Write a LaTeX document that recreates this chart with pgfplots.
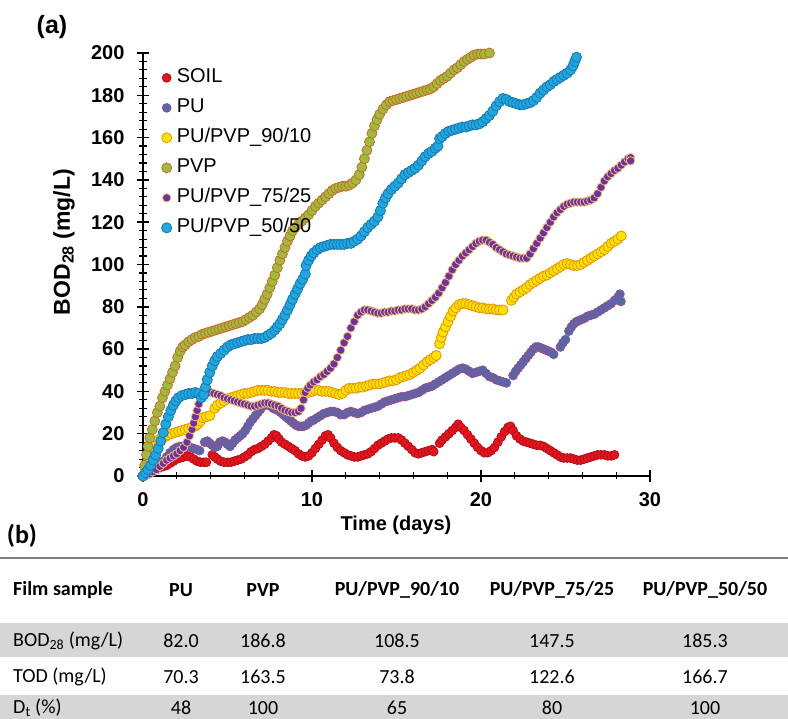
\documentclass[border=0pt]{standalone}
\usepackage{pgfplots}
\pgfplotsset{compat=1.18}
\usepackage{fontspec}
\setmainfont{Liberation Sans}
\newfontfamily\calibri{Carlito}

\definecolor{soilF}{HTML}{E8141B}\definecolor{soilD}{HTML}{B0101C}
\definecolor{puF}{HTML}{4E6AAE}\definecolor{puD}{HTML}{9B4D8A}
\definecolor{nineF}{HTML}{FFE200}\definecolor{nineD}{HTML}{E89400}
\definecolor{pvpF}{HTML}{9CBD3C}\definecolor{pvpD}{HTML}{D0682A}
\definecolor{sevF}{HTML}{7030A0}\definecolor{sevD}{HTML}{F0C070}
\definecolor{fifF}{HTML}{1FA8E0}\definecolor{fifD}{HTML}{1A78B0}
\definecolor{band}{HTML}{D6D6D6}
\definecolor{rule}{HTML}{7F7F7F}

\newcommand{\tickfont}{\fontsize{20}{24}\selectfont\bfseries}
\newcommand{\legfont}{\fontsize{20}{24}\selectfont}
\newcommand{\tabfont}{\calibri\fontsize{20}{24}\selectfont}

\begin{document}
\begin{tikzpicture}[x=1pt,y=1pt]
\useasboundingbox (0,0) rectangle (788,719);

\begin{axis}[
  at={(143pt,243pt)}, anchor=origin,
  scale only axis, width=507pt, height=423pt,
  xmin=0, xmax=30, ymin=0, ymax=200,
  clip=false,
  axis x line*=bottom, axis y line*=left,
  axis line style={line width=1.6pt, -},
  xtick={0,10,20,30}, ytick={0,20,...,200},
  minor x tick num=4, minor y tick num=4,
  tick align=center,
  major tick length=12pt, minor tick length=7pt,
  every major tick/.style={line width=1.5pt, black},
  every minor tick/.style={line width=1.1pt, black},
  /pgf/number format/assume math mode=true,
  ticklabel style={font=\tickfont},
  xticklabel style={yshift=-7pt},
  yticklabel style={xshift=-9pt},
  legend image code/.code={\draw[mark repeat=2,mark phase=2,#1] plot coordinates {(0pt,0pt) (4.5pt,0pt) (9pt,0pt)};},
  legend cell align=left,
  legend style={draw=none, fill=none, at={(axis cs:1.1,192.5)}, anchor=north west,
    inner sep=0pt, outer sep=0pt, row sep=12pt, column sep=5pt, font=\legfont,
    nodes={inner sep=0pt, text height=14pt, text depth=4pt}},
]

% SOIL
\addplot[only marks, mark=*, mark size=4.4pt, mark options={fill=soilF, draw=soilD, line width=0.8pt}] coordinates {
(0,0) (0.2,0.5) (0.4,1.5) (0.6,2.5) (0.8,3) (1.0,4) (1.2,4.5) (1.4,5) (1.6,6) (1.8,7) (2.0,8) (2.2,8.5) (2.4,9) (2.6,9.5) (2.8,9) (3.0,8) (3.2,7) (3.4,6.5) (3.6,6.5) (3.75,6.5)
(4.1,10) (4.25,9) (4.4,8) (4.6,7) (4.8,6.5) (5.0,6.5) (5.2,6.5) (5.4,7) (5.6,7.5) (5.8,8) (6.0,9) (6.2,10) (6.4,11.5) (6.6,12.5) (6.8,13) (7.0,14) (7.2,15) (7.4,16.5) (7.6,18) (7.75,19.5) (7.9,19) (8.05,17.5) (8.2,16) (8.4,15) (8.6,14) (8.8,13) (9.0,12) (9.2,10.5) (9.4,9.5) (9.6,9) (9.8,9.5)
(10.0,11) (10.2,13) (10.4,15) (10.6,17) (10.8,19) (10.95,19.5) (11.1,18) (11.3,15.5) (11.5,13.5) (11.7,12) (11.9,11) (12.1,10) (12.3,9.5) (12.5,9) (12.7,9) (12.9,9.5) (13.1,10) (13.3,10.5) (13.5,11.5) (13.7,13) (13.9,14.5) (14.1,15.5) (14.3,16.5) (14.5,17.5) (14.7,18) (14.9,18) (15.1,18) (15.3,17) (15.5,15.5) (15.7,14) (15.9,12.5) (16.1,11) (16.3,10.5) (16.5,11) (16.7,11.5) (16.9,12) (17.1,12.5) (17.2,11.5)
(17.55,15.5) (17.7,17) (17.9,18.5) (18.1,20) (18.3,21.5) (18.5,23) (18.65,24.5) (18.8,23) (19.0,21.5) (19.2,19.5) (19.4,17.5) (19.6,15.5) (19.8,13.5) (20.0,12) (20.2,11) (20.4,11) (20.6,12) (20.8,13.5) (21.0,16) (21.2,18.5) (21.4,21) (21.6,23) (21.75,23.5) (21.9,21.5) (22.1,19) (22.3,17.5) (22.5,16.5) (22.7,16) (22.9,15.5) (23.1,15) (23.3,14.5) (23.5,14.5) (23.7,14) (23.9,13) (24.1,12) (24.3,11) (24.5,10) (24.7,9) (24.9,8.5) (25.1,8.5) (25.3,8.5) (25.5,8) (25.7,7.5) (25.9,7.5) (26.1,8) (26.3,8.5) (26.5,9) (26.7,9.5) (26.9,10) (27.1,10) (27.3,10) (27.5,9.5) (27.7,9.5) (27.9,10)
};
\addlegendentry{SOIL}

% PU
\addplot[only marks, mark=*, mark size=4.4pt, mark options={fill=puF, draw=puD, line width=0.8pt}] coordinates {
(0,0) (0.2,1) (0.4,2) (0.6,3) (0.8,4) (1.0,5.5) (1.2,7) (1.4,9) (1.6,11) (1.8,12.5) (2.0,13.5) (2.2,14) (2.4,14) (2.6,14) (2.8,13.5) (3.0,13) (3.2,12.5) (3.35,12)
(3.65,16) (3.8,16.5) (3.95,15.5) (4.1,14.5) (4.25,13.5) (4.4,14) (4.55,16) (4.7,16.5) (4.85,16) (5.0,15) (5.15,14) (5.3,15.5) (5.45,17) (5.6,18) (5.75,19) (5.9,20) (6.05,21.5) (6.2,23.5) (6.35,25.5) (6.5,27) (6.65,28.5) (6.8,30) (6.95,31.5) (7.1,33) (7.25,34) (7.4,34) (7.55,33) (7.7,32) (7.85,31.5) (8.0,31) (8.15,30) (8.3,29) (8.45,28) (8.6,27) (8.75,26) (8.9,25) (9.05,24) (9.2,23.5) (9.35,23.5) (9.5,23.5) (9.65,24) (9.8,25) (9.95,26)
(10.1,26.5) (10.3,27.5) (10.5,28.5) (10.7,29.5) (10.9,30) (11.1,30.5) (11.3,30.5) (11.5,30) (11.7,29) (11.9,29) (12.1,30) (12.3,30.5) (12.5,30) (12.7,29.5) (12.9,30) (13.1,31) (13.3,31.5) (13.5,32) (13.7,32.5) (13.9,33) (14.1,34) (14.3,35) (14.5,35.5) (14.7,36) (14.9,36.5) (15.1,37) (15.3,37.5) (15.5,37.5) (15.7,38) (15.9,38.5) (16.1,39) (16.3,39.5) (16.5,40.5) (16.7,41.5) (16.9,42) (17.1,42.5) (17.3,43.5) (17.5,44.5) (17.7,45.5) (17.9,46.5) (18.1,47.5) (18.3,48.5) (18.5,49.5) (18.7,50.5) (18.9,51) (19.1,50.5) (19.3,49.5) (19.5,48.5) (19.7,49) (19.9,49.5) (20.1,50) (20.3,48.5) (20.5,47) (20.7,46.5) (20.9,45.5) (21.1,45) (21.3,44.5) (21.5,44)
(21.9,47.5) (22.05,49.5) (22.2,51) (22.35,52.5) (22.5,54) (22.65,55.5) (22.8,57) (22.95,58.5) (23.1,60) (23.25,61) (23.4,61) (23.55,60.5) (23.7,60) (23.85,59.5) (24.0,59) (24.15,58.5) (24.3,57.5)
(24.7,61) (24.85,63) (25.0,64.5)
(25.2,68.5) (25.35,70.5) (25.5,72) (25.65,73) (25.8,73.5) (25.95,74) (26.1,74.5) (26.3,75.5) (26.5,76) (26.7,76.5) (26.9,77.5) (27.1,78.5) (27.3,79.5) (27.5,80.5) (27.7,81.5) (27.9,83) (28.1,84.5) (28.22,86) (28.28,82.5)
};
\addlegendentry{PU}

% PU/PVP 90/10
\addplot[only marks, mark=*, mark size=5pt, mark options={fill=nineF, draw=nineD, line width=0.8pt}] coordinates {
(0,0) (0.15,3) (0.3,7) (0.45,10.5) (0.6,13.5) (0.75,15.5) (0.9,17) (1.1,18) (1.3,18.5) (1.5,19.5) (1.7,20) (1.9,20.5) (2.1,21) (2.3,21.5) (2.5,22) (2.7,22.5) (2.9,23) (3.1,23.5) (3.25,24.5) (3.4,26) (3.55,27.5) (3.75,28) (3.95,28.5)
(4.25,32) (4.4,33.5) (4.6,34.5) (4.8,35.5) (5.0,36.5) (5.2,37) (5.4,37.5) (5.6,38) (5.8,38.5) (6.0,39) (6.2,39) (6.4,39.5) (6.6,40) (6.8,40.5) (7.0,40.5) (7.2,40.5) (7.4,40.5) (7.6,40) (7.8,40) (8.0,39.5) (8.2,39.5) (8.4,39.5) (8.6,39) (8.8,39) (9.0,39) (9.2,39) (9.4,39) (9.6,39.5) (9.8,39.5) (10.0,40) (10.2,40.5) (10.4,40.5) (10.6,40) (10.8,40) (11.0,40) (11.2,39.5) (11.4,39) (11.6,38.5) (11.8,39) (12.0,40.5) (12.2,41.5) (12.4,41.5) (12.6,41.5) (12.8,42) (13.0,42) (13.2,42.5) (13.4,43) (13.6,43.5) (13.8,43.5) (14.0,43.5) (14.2,44) (14.4,44.5) (14.6,45) (14.8,45) (15.0,45.5) (15.2,46.5) (15.4,47) (15.6,47.5) (15.8,48) (16.0,49) (16.2,50) (16.4,51) (16.6,52.5) (16.8,54) (17.0,55) (17.2,56) (17.35,57)
(17.55,62.5) (17.65,65.5) (17.75,68) (17.9,70.5) (18.05,73) (18.2,75.5) (18.35,78) (18.5,79.5) (18.7,81) (18.9,81.5) (19.1,81.5) (19.3,81) (19.5,80.5) (19.7,80) (19.9,79.5) (20.1,79.5) (20.3,79) (20.5,79) (20.7,79) (20.9,78.5) (21.1,78.5) (21.3,78.5)
(21.8,83) (21.95,84.5) (22.1,86) (22.3,87) (22.5,88) (22.7,89) (22.9,90.5) (23.1,91.5) (23.3,92.5) (23.5,93.5) (23.7,94.5) (23.9,95) (24.1,96) (24.3,97) (24.5,98) (24.7,99) (24.9,100) (25.1,100.5) (25.3,100) (25.5,99.5) (25.7,99.5) (25.9,100) (26.1,101) (26.3,102) (26.5,103) (26.7,104) (26.9,105) (27.1,106) (27.3,107) (27.5,108.5) (27.7,110) (27.9,111) (28.1,112) (28.3,113.5)
};
\addlegendentry{PU/PVP\_90/10}

% PVP
\addplot[only marks, mark=*, mark size=5pt, mark options={fill=pvpF, draw=pvpD, line width=0.8pt}] coordinates {
(0,0) (0.1,5) (0.2,10) (0.3,14) (0.4,18) (0.55,22) (0.7,26) (0.85,30) (1.0,33) (1.15,37) (1.3,40) (1.45,43) (1.6,46) (1.75,49) (1.9,52) (2.05,56) (2.2,59) (2.35,61) (2.5,62) (2.7,63.5) (2.9,64.5) (3.1,65.5) (3.3,66) (3.5,67) (3.7,67.5) (3.9,68) (4.1,68.5) (4.3,69) (4.5,69.5) (4.7,70) (4.9,70.5) (5.1,71) (5.3,71.5) (5.5,72) (5.7,72.5) (5.9,73) (6.1,74) (6.3,75) (6.5,76) (6.7,77.5) (6.9,79) (7.05,81) (7.2,83.5) (7.35,86) (7.5,89) (7.65,92) (7.8,95) (7.95,98.5) (8.1,102) (8.25,105) (8.4,108) (8.55,111) (8.7,113.5) (8.85,116) (9.0,117.5) (9.2,119) (9.4,120.5) (9.6,122) (9.8,123.5)
(10.0,125.5) (10.2,127.5) (10.4,129) (10.6,130.5) (10.8,132) (11.0,133.5) (11.2,135) (11.4,136) (11.6,136.5) (11.8,137) (12.0,137) (12.2,137.5) (12.4,138.5) (12.6,140) (12.8,142.5) (12.95,146) (13.1,150) (13.25,154) (13.4,158) (13.55,162) (13.7,165.5) (13.85,168.5) (14.0,171) (14.2,173.5) (14.4,175.5) (14.6,177) (14.8,177.5) (15.0,178) (15.2,178.5) (15.4,179) (15.6,179.5) (15.8,180) (16.0,180.5) (16.2,181) (16.4,181.5) (16.6,182) (16.8,182.5) (17.0,183) (17.2,184) (17.4,185.5) (17.6,187) (17.8,188) (18.0,189) (18.2,190.5) (18.4,192) (18.6,193) (18.8,194.5) (19.0,196) (19.2,197) (19.4,198) (19.6,199) (19.8,199.5) (20.0,199.5) (20.2,199.5) (20.5,200)
};
\addlegendentry{PVP}

% PU/PVP 75/25
\addplot[only marks, mark=*, mark size=4.2pt, mark options={fill=sevF, draw=sevD, line width=0.8pt}] coordinates {
(0,0) (0.2,0.5) (0.4,1) (0.6,2) (0.8,3) (1.0,4.5) (1.2,6) (1.4,7.5) (1.6,8.5) (1.8,9.5) (2.0,10.5) (2.2,12) (2.4,13.5) (2.6,16) (2.75,19) (2.9,22) (3.0,25) (3.1,28) (3.2,31) (3.3,34) (3.45,37) (3.6,38.5) (3.8,39.5) (4.0,39.5) (4.2,39) (4.4,38.5) (4.6,38) (4.8,37) (5.0,36.5) (5.2,36) (5.4,35.5) (5.6,35) (5.8,34.5) (6.0,34) (6.2,33.5) (6.4,33) (6.6,33) (6.8,33.5) (7.0,34) (7.2,34.5) (7.4,34.5) (7.6,34) (7.8,33.5) (8.0,33) (8.2,32) (8.4,31) (8.6,30.5) (8.8,30) (9.0,30) (9.2,30.5) (9.35,32) (9.5,36) (9.6,39.5) (9.75,41.5) (9.9,43)
(10.1,44.5) (10.3,45.5) (10.5,47) (10.7,48) (10.9,49.5) (11.1,51) (11.3,53) (11.5,56) (11.7,59.5) (11.9,63) (12.1,66) (12.3,70) (12.5,73) (12.7,76) (12.9,77.5) (13.1,78.5) (13.3,78.5) (13.5,78) (13.7,77.5) (13.9,77) (14.1,77) (14.3,77.5) (14.5,77.5) (14.7,78) (14.9,78) (15.1,78.5) (15.3,78.5) (15.5,79) (15.7,79) (15.9,79) (16.1,78.5) (16.3,78.5) (16.5,79) (16.7,80) (16.9,81.5) (17.1,83) (17.3,84.5) (17.5,86.5) (17.7,89) (17.9,91.5) (18.1,94.5) (18.3,97.5) (18.5,100) (18.7,102) (18.9,104) (19.1,105.5) (19.3,107) (19.5,108.5) (19.7,110) (19.9,111)
(20.1,111.5) (20.3,111.5) (20.5,110.5) (20.7,109.5) (20.9,108) (21.1,107) (21.3,106) (21.5,105) (21.7,104.5) (21.9,104) (22.1,103.5) (22.3,103) (22.5,103) (22.7,103) (22.9,105) (23.1,107.5) (23.3,110) (23.5,112.5) (23.7,115) (23.9,117.5) (24.1,120) (24.3,122.5) (24.5,124.5) (24.7,126) (24.9,127.5) (25.1,128.5) (25.3,129) (25.5,129.5) (25.7,129.5) (25.9,129.5) (26.1,129.5) (26.3,130) (26.5,130.5) (26.7,131.5) (26.9,133.5) (27.1,136.5) (27.3,139.5) (27.5,141.5) (27.7,143) (27.9,144.5) (28.1,145.5) (28.3,147) (28.5,148.5) (28.7,150) (28.85,150.5) (28.85,149)
};
\addlegendentry{PU/PVP\_75/25}

% PU/PVP 50/50
\addplot[only marks, mark=*, mark size=5.1pt, mark options={fill=fifF, draw=fifD, line width=0.8pt}] coordinates {
(0.0,0) (0.15,1.5) (0.3,3) (0.45,5) (0.6,7.5) (0.75,10) (0.9,13) (1.05,16.5) (1.2,20.5) (1.35,24.5) (1.5,28) (1.65,31) (1.8,33.5) (1.95,35.5) (2.1,37) (2.3,38) (2.5,38.5) (2.7,39) (2.9,39) (3.1,39.5) (3.3,39) (3.45,37) (3.6,38.5) (3.7,42) (3.8,45.5) (3.95,49) (4.1,52) (4.25,54.5) (4.4,56.5) (4.6,58) (4.8,59.5) (5.0,61) (5.2,62) (5.4,62.5) (5.6,63) (5.8,63.5) (6.0,64) (6.2,64.5) (6.4,64.5) (6.6,65) (6.8,65) (7.0,65) (7.2,65.5) (7.4,66.5) (7.6,67.5) (7.8,69) (7.95,70.5) (8.1,72) (8.25,74) (8.4,76) (8.55,78.5) (8.7,81) (8.85,83.5) (9.0,86) (9.15,88.5) (9.3,91) (9.45,93) (9.6,95.5)
(9.65,99.5) (9.8,102) (9.95,104) (10.1,105.5) (10.3,107) (10.5,108) (10.7,108.5) (10.9,109) (11.1,109.5) (11.3,109.5) (11.5,109.5) (11.7,109.5) (11.9,109.5) (12.1,110) (12.3,110) (12.5,111) (12.7,112) (12.9,113.5) (13.1,115.5) (13.3,117.5) (13.5,119) (13.7,120.5) (13.9,122.5) (14.05,125.5) (14.2,129) (14.35,131.5) (14.5,133.5) (14.7,135.5) (14.9,137) (15.1,138.5) (15.3,140.5) (15.5,142.5) (15.7,143.5) (15.9,144.5) (16.1,145.5) (16.3,147) (16.5,149) (16.7,151) (16.9,152.5) (17.1,153.5) (17.3,155) (17.45,156)
(17.55,159.5) (17.7,160.5) (17.9,162) (18.1,163) (18.3,163.5) (18.5,164) (18.7,164.5) (18.9,165) (19.1,165) (19.3,165.5) (19.5,166) (19.7,166) (19.9,166.5) (20.1,167.5) (20.3,169) (20.5,170.5) (20.7,172.5) (20.9,175) (21.1,177) (21.3,178.5) (21.5,178) (21.7,177) (21.9,176.5) (22.1,176) (22.3,175.5) (22.5,175.5) (22.7,176) (22.9,176.5) (23.1,177.5) (23.3,179) (23.5,181) (23.7,182.5) (23.9,184) (24.1,185) (24.3,186.5) (24.5,187.5) (24.7,188.5) (24.9,189.5) (25.1,190.5) (25.3,192) (25.45,194) (25.55,196) (25.65,198)
};
\addlegendentry{PU/PVP\_50/50}
\end{axis}

% panel letters and axis titles
\node[font=\fontsize{25}{30}\selectfont\bfseries] at (52,692) {(a)};
\node[rotate=90, font=\fontsize{23}{27}\selectfont\bfseries] at (64,477) {BOD\textsubscript{28} (mg/L)};
\node[font=\fontsize{20}{24}\selectfont\bfseries] at (396,194) {Time (days)};
\node[font=\calibri\fontsize{26}{30}\selectfont\bfseries] at (22,183) {(b)};

% table (b)
\draw[rule, line width=2.5pt] (0,161) -- (788,161);
\fill[band] (0,62) rectangle (788,96);
\fill[band] (0,0) rectangle (788,24);

\begin{scope}[every node/.style={font=\tabfont, inner sep=0pt}]
  \node[anchor=west, font=\tabfont\bfseries] at (13,129) {Film sample};
  \node[font=\tabfont\bfseries] at (181,129) {PU};
  \node[font=\tabfont\bfseries] at (263,129) {PVP};
  \node[font=\tabfont\bfseries] at (397,129) {PU/PVP\_90/10};
  \node[font=\tabfont\bfseries] at (552,129) {PU/PVP\_75/25};
  \node[font=\tabfont\bfseries] at (705,129) {PU/PVP\_50/50};

  \node[anchor=west] at (13,78) {BOD\textsubscript{28} (mg/L)};
  \node at (181,78) {82.0};
  \node at (263,78) {186.8};
  \node at (397,78) {108.5};
  \node at (552,78) {147.5};
  \node at (705,78) {185.3};

  \node[anchor=west] at (13,42) {TOD (mg/L)};
  \node at (181,42) {70.3};
  \node at (263,42) {163.5};
  \node at (397,42) {73.8};
  \node at (552,42) {122.6};
  \node at (705,42) {166.7};

  \node[anchor=west] at (13,11) {D\textsubscript{t} (\%)};
  \node at (181,11) {48};
  \node at (263,11) {100};
  \node at (397,11) {65};
  \node at (552,11) {80};
  \node at (705,11) {100};
\end{scope}
\end{tikzpicture}
\end{document}
